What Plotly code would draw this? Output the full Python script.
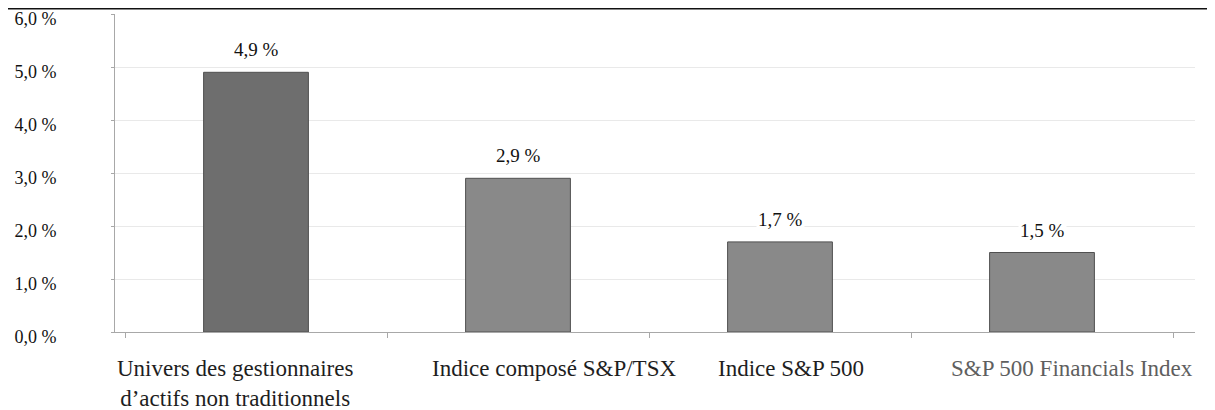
import plotly.graph_objects as go

categories = [
    "Univers des gestionnaires<br>d’actifs non traditionnels",
    "Indice composé S&P/TSX",
    "Indice S&P 500",
    "S&P 500 Financials Index",
]
values = [4.9, 2.9, 1.7, 1.5]
y_ticks = [0, 1, 2, 3, 4, 5, 6]

bar_colors = ["#6e6e6e", "#898989", "#898989", "#898989"]
label_colors = ["#1e1e1e", "#1e1e1e", "#1e1e1e", "#5f5f5f"]
label_xshift = [-21, 36, 11, 30]

FONT = "Liberation Serif"

fig = go.Figure()
fig.add_trace(go.Bar(
    x=categories,
    y=values,
    marker=dict(color=bar_colors, line=dict(color="#505050", width=1)),
    hoverinfo="skip",
))

def fmt(v):
    return f"{v:.1f}".replace(".", ",") + " %"

annotations = []
for c, v in zip(categories, values):
    annotations.append(dict(
        x=c, y=v, xref="x", yref="y", text=fmt(v), showarrow=False,
        yanchor="bottom", yshift=10, bgcolor="white",
        font=dict(family=FONT, size=19, color="#111111"),
    ))
for c, col, dx in zip(categories, label_colors, label_xshift):
    annotations.append(dict(
        x=c, y=0, xref="x", yref="paper", text=c, showarrow=False,
        yanchor="top", yshift=-22, xshift=dx, align="center",
        font=dict(family=FONT, size=23, color=col),
    ))

fig.update_layout(
    width=1207, height=402,
    margin=dict(l=107, r=20, t=6, b=78, autoexpand=False),
    paper_bgcolor="white", plot_bgcolor="white",
    bargap=0.6,
    showlegend=False,
    separators=", ",
    annotations=annotations,
    shapes=[dict(type="line", xref="paper", yref="paper",
                 x0=-0.2, x1=1.2, y0=(324 - 0.5) / 318, y1=(324 - 0.5) / 318,
                 line=dict(color="#111111", width=2))],
)
fig.update_xaxes(
    type="category", showticklabels=False, automargin=False,
    showline=True, linecolor="#a8a8a8", linewidth=1,
    ticks="outside", ticklen=5, tickcolor="#a8a8a8", tickson="boundaries",
    showgrid=False,
)
fig.update_yaxes(
    range=[0, 6], tickvals=y_ticks, automargin=False,
    ticktext=[fmt(t) for t in y_ticks],
    showline=True, linecolor="#a8a8a8", linewidth=1,
    ticks="outside", ticklen=3, tickcolor="#a8a8a8",
    showgrid=True, gridcolor="#e9e9e9", gridwidth=1, zeroline=False,
    ticklabelstandoff=51, ticklabeloverflow="allow", ticklabelshift=5,
    tickfont=dict(family=FONT, size=18, color="#111111"),
)

fig.write_html("out.html")
